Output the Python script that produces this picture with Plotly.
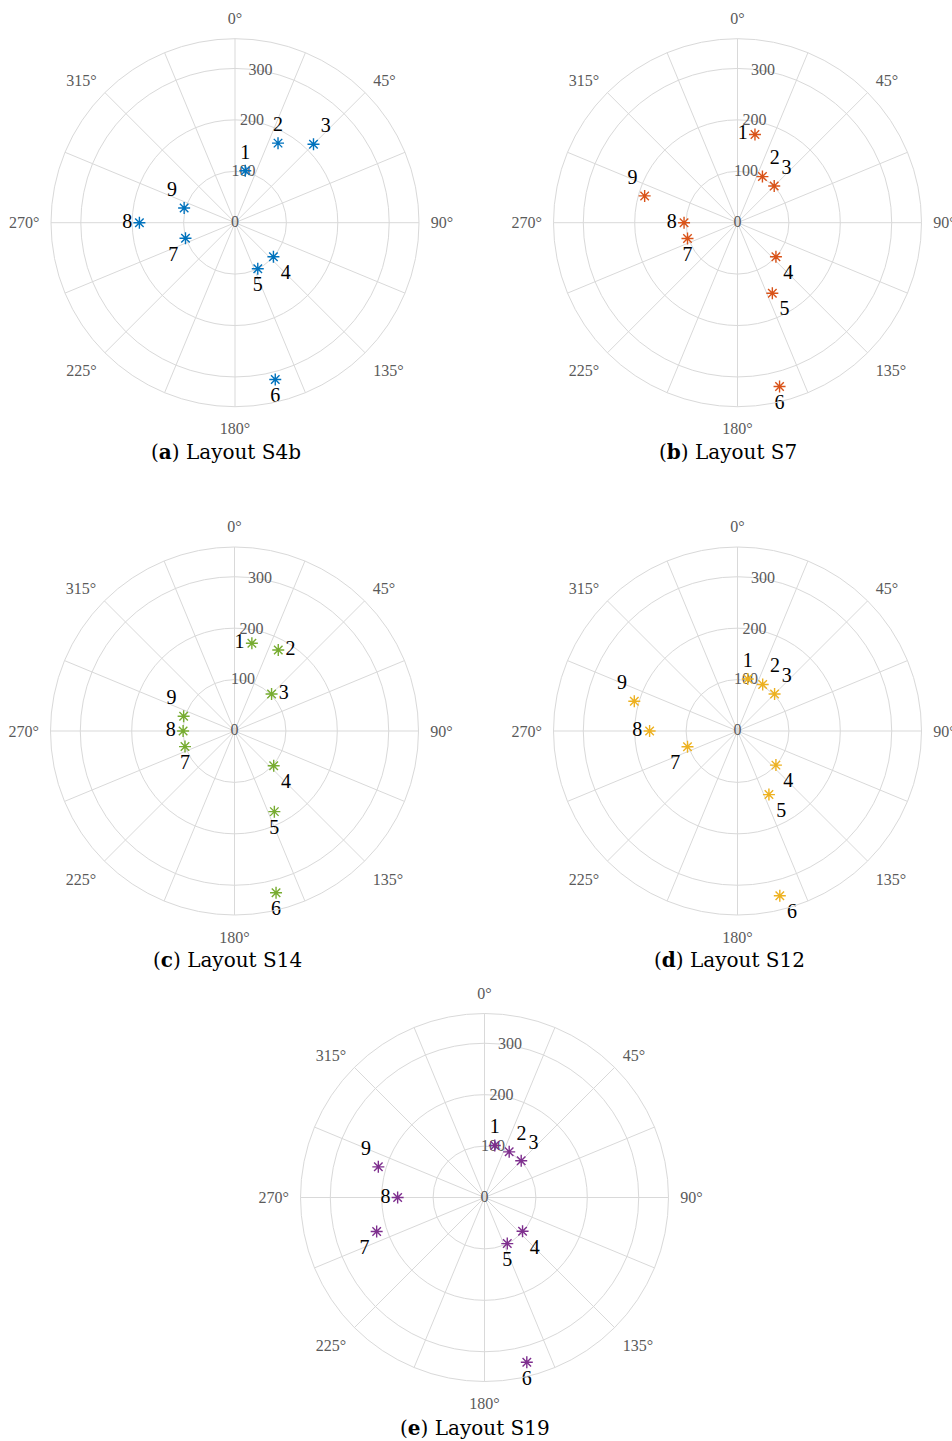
import plotly.graph_objects as go

# Bearing of each numbered position (degrees, clockwise from north)
theta_deg = [11.2, 28.4, 45.0, 131.6, 153.7, 165.6, 252.5, 270.0, 286.1]
point_ids = ["1", "2", "3", "4", "5", "6", "7", "8", "9"]

# Radial distance of each position for the five layouts
r_s4b = [103, 176, 216, 100, 100, 315, 101, 186, 103]
r_s7 = [175, 102, 101, 100, 153, 329, 102, 104, 188]
r_s14 = [174, 179, 102, 102, 175, 325, 101, 100, 103]
r_s12 = [103, 103, 102, 100, 138, 331, 102, 171, 209]
r_s19 = [103, 101, 101, 99, 100, 331, 220, 169, 215]

panel_letters = ["a", "b", "c", "d", "e"]
panel_names = ["Layout S4b", "Layout S7", "Layout S14", "Layout S12", "Layout S19"]
panel_colors = ["#0072BD", "#D95319", "#77AC30", "#EDB120", "#7E2F8E"]

radial_ticks = [0, 100, 200, 300]
radial_label_theta = 9.5  # bearing along which the radius labels are written
angular_ticks = [i * 22.5 for i in range(16)]
angular_text = [f"{int(a)}°" if a % 45 == 0 else "" for a in angular_ticks]

W, H = 952, 1441
R_PX = 184
R_MAX = 358

# Pixel centres of the polar panels and their captions
centres = [(235, 222.7), (737.5, 222.7), (234.5, 731), (737.5, 731), (484.5, 1197.5)]
captions = [(226, 452), (728, 452), (227, 960), (729, 960), (475, 1428)]

# Where each number sits relative to its marker, per panel
label_pos = [
    ["top center", "top center", "top right", "bottom right", "bottom center",
     "bottom center", "bottom left", "middle left", "top left"],
    ["middle left", "top right", "top right", "bottom right", "bottom right",
     "bottom center", "bottom center", "middle left", "top left"],
    ["middle left", "middle right", "middle right", "bottom right", "bottom center",
     "bottom center", "bottom center", "middle left", "top left"],
    ["top center", "top right", "top right", "bottom right", "bottom right",
     "bottom right", "bottom left", "middle left", "top left"],
    ["top center", "top right", "top right", "bottom right", "bottom center",
     "bottom center", "bottom left", "middle left", "top left"],
]

radii = [r_s4b, r_s7, r_s14, r_s12, r_s19]

GRID = "#d9d9d9"
TICK_FONT = dict(family="Liberation Serif", size=16, color="#5a5a5a")

fig = go.Figure()
layout_updates = {}
annotations = []

for i in range(5):
    key = "polar" if i == 0 else f"polar{i + 1}"
    cx, cy = centres[i]

    # radius labels written along a line just clockwise of north
    fig.add_trace(go.Scatterpolar(
        r=radial_ticks,
        theta=[radial_label_theta] * len(radial_ticks),
        mode="text",
        text=[str(v) for v in radial_ticks],
        textposition="middle center",
        textfont=TICK_FONT,
        subplot=key,
        showlegend=False,
        hoverinfo="skip",
        cliponaxis=False,
    ))

    fig.add_trace(go.Scatterpolar(
        r=radii[i],
        theta=theta_deg,
        mode="markers+text",
        text=point_ids,
        textposition=label_pos[i],
        textfont=dict(family="Liberation Serif", size=20, color="black"),
        marker=dict(symbol="asterisk", size=10,
                    line=dict(color=panel_colors[i], width=1.4),
                    color=panel_colors[i]),
        subplot=key,
        showlegend=False,
        cliponaxis=False,
    ))
    layout_updates[key] = dict(
        domain=dict(
            x=[(cx - R_PX) / W, (cx + R_PX) / W],
            y=[1 - (cy + R_PX) / H, 1 - (cy - R_PX) / H],
        ),
        bgcolor="white",
        angularaxis=dict(
            rotation=90,
            direction="clockwise",
            tickmode="array",
            tickvals=angular_ticks,
            ticktext=angular_text,
            ticks="outside",
            ticklen=8,
            tickcolor="rgba(0,0,0,0)",
            showgrid=True,
            gridcolor=GRID,
            gridwidth=1,
            showline=True,
            linecolor=GRID,
            linewidth=1,
            tickfont=TICK_FONT,
        ),
        radialaxis=dict(
            range=[0, R_MAX],
            tickmode="array",
            tickvals=radial_ticks,
            showticklabels=False,
            showline=False,
            ticks="",
            showgrid=True,
            gridcolor=GRID,
            gridwidth=1,
        ),
    )
    cap_x, cap_y = captions[i]
    annotations.append(dict(
        x=cap_x / W, y=1 - cap_y / H, xref="paper", yref="paper",
        xanchor="center", yanchor="middle", showarrow=False,
        text=f"(<b>{panel_letters[i]}</b>) {panel_names[i]}",
        font=dict(family="DejaVu Serif", size=20, color="black"),
    ))

fig.update_layout(
    width=W, height=H,
    margin=dict(l=0, r=0, t=0, b=0),
    paper_bgcolor="white",
    plot_bgcolor="white",
    annotations=annotations,
    **layout_updates,
)

fig.write_html("out.html")
